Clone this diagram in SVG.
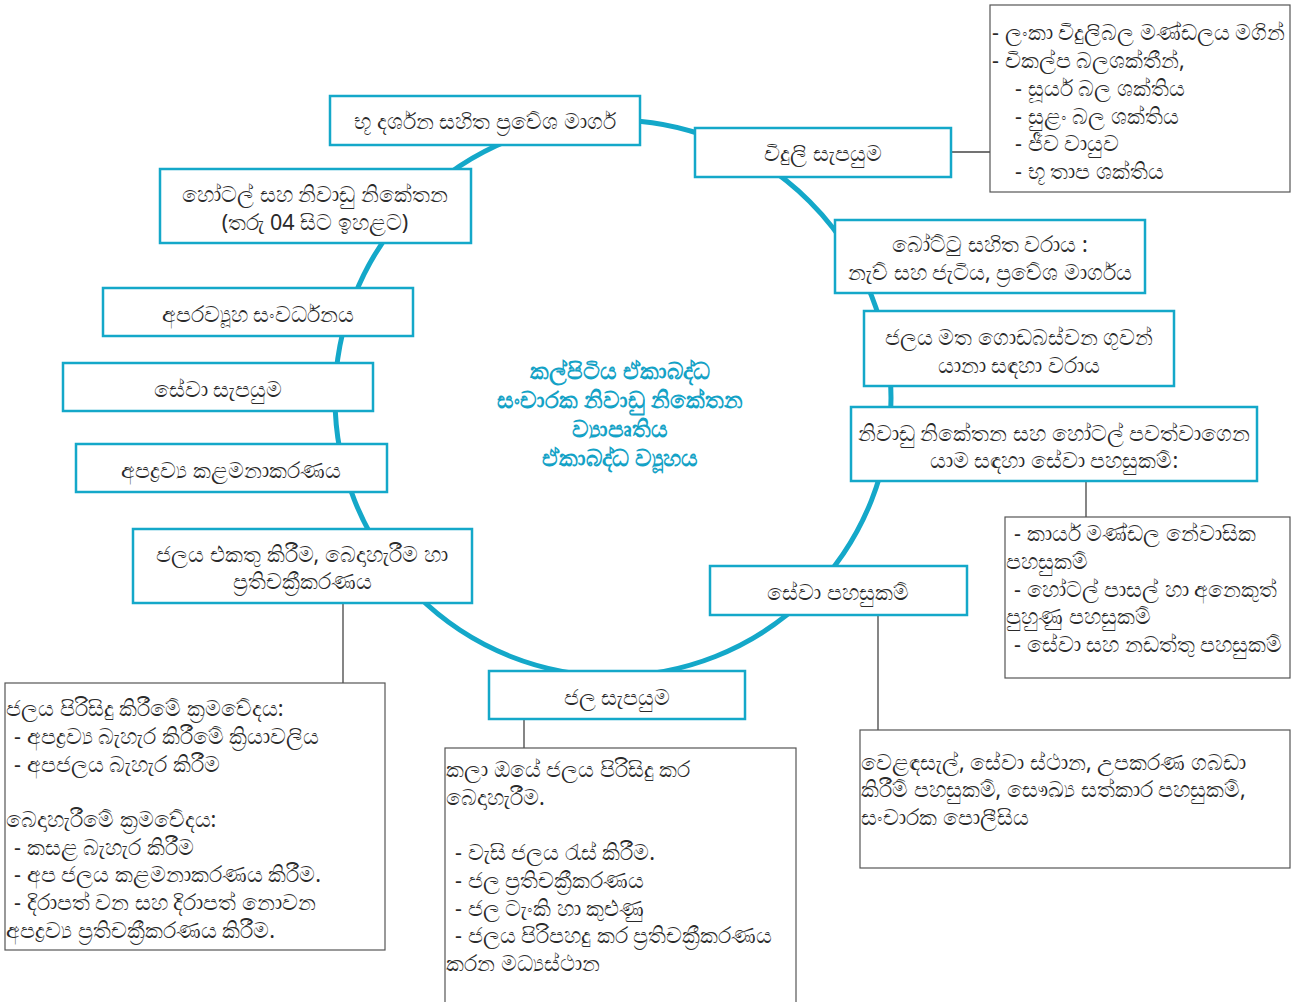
<svg xmlns="http://www.w3.org/2000/svg" width="1303" height="1002" viewBox="0 0 1303 1002">
<style>
.n{fill:#fff;stroke:#14a8c9;stroke-width:2.5}
.i{fill:#fff;stroke:#555;stroke-width:1.2}
.c{stroke:#444;stroke-width:1.3;fill:none}
text{font-family:"Noto Sans","DejaVu Sans",sans-serif;font-size:21.5px;fill:#2a2a2a}
.m{text-anchor:middle}
.t{fill:#14a2c6;font-weight:bold;font-size:23px;text-anchor:middle}
</style>
<rect width="1303" height="1002" fill="#fff"/>
<g id="ring">
<circle cx="613" cy="398" r="278" fill="none" stroke="#14a8c9" stroke-width="5"/>
</g>
<g id="connectors">
<line class="c" x1="951" y1="152" x2="990" y2="152"/>
<line class="c" x1="1086" y1="481" x2="1086" y2="517"/>
<line class="c" x1="878" y1="615" x2="878" y2="730"/>
<line class="c" x1="524" y1="719" x2="524" y2="748"/>
<line class="c" x1="343" y1="603" x2="343" y2="683"/>
</g>
<g id="center">
<text class="t" x="620" y="379">කල්පිටිය ඒකාබද්ධ</text>
<text class="t" x="620" y="408">සංචාරක නිවාඩු නිකේතන</text>
<text class="t" x="620" y="437">ව්‍යාපෘතිය</text>
<text class="t" x="620" y="466">ඒකාබද්ධ ව්‍යූහය</text>
</g>
<g id="n1"><rect class="n" x="330" y="96" width="310" height="49"/><text class="m" x="485" y="129">භූ දර්ශන සහිත ප්‍රවේශ මාර්ග</text></g>
<g id="n2"><rect class="n" x="695" y="128" width="256" height="49"/><text class="m" x="823" y="161">විදුලි සැපයුම</text></g>
<g id="n3"><rect class="n" x="160" y="169" width="311" height="74"/><text class="m" x="315" y="202">හෝටල් සහ නිවාඩු නිකේතන</text><text class="m" x="315" y="230">(තරු 04 සිට ඉහළට)</text></g>
<g id="n4"><rect class="n" x="835" y="220" width="310" height="73"/><text class="m" x="990" y="252">බෝට්ටු සහිත වරාය :</text><text class="m" x="990" y="280">නැව් සහ ජැටිය, ප්‍රවේශ මාර්ගය</text></g>
<g id="n5"><rect class="n" x="864" y="311" width="310" height="75"/><text class="m" x="1019" y="345">ජලය මත ගොඩබස්වන ගුවන්</text><text class="m" x="1019" y="373">යානා සඳහා වරාය</text></g>
<g id="n6"><rect class="n" x="851" y="407" width="406" height="74"/><text class="m" x="1054" y="441">නිවාඩු නිකේතන සහ හෝටල් පවත්වාගෙන</text><text class="m" x="1054" y="468">යාම සඳහා සේවා පහසුකම්:</text></g>
<g id="n7"><rect class="n" x="103" y="288" width="310" height="48"/><text class="m" x="258" y="322">අපරව්‍යූහ සංවර්ධනය</text></g>
<g id="n8"><rect class="n" x="63" y="363" width="310" height="48"/><text class="m" x="218" y="397">සේවා සැපයුම</text></g>
<g id="n9"><rect class="n" x="76" y="444" width="311" height="48"/><text class="m" x="231" y="478">අපද්‍රව්‍ය කළමනාකරණය</text></g>
<g id="n10"><rect class="n" x="133" y="529" width="339" height="74"/><text class="m" x="302" y="562">ජලය එකතු කිරීම, බෙදාහැරීම හා</text><text class="m" x="302" y="589">ප්‍රතිචක්‍රීකරණය</text></g>
<g id="n11"><rect class="n" x="710" y="566" width="257" height="49"/><text class="m" x="838" y="600">සේවා පහසුකම්</text></g>
<g id="n12"><rect class="n" x="489" y="671" width="256" height="48"/><text class="m" x="617" y="705">ජල සැපයුම</text></g>
<g id="infoA"><rect class="i" x="990" y="5" width="300" height="187"/>
<text x="992" y="40">- ලංකා විදුලිබල මණ්ඩලය මගින්</text>
<text x="992" y="68">- විකල්ප බලශක්තීන්,</text>
<text x="1015" y="96">- සූර්ය බල ශක්තිය</text>
<text x="1015" y="124">- සුළං බල ශක්තිය</text>
<text x="1015" y="151">- ජීව වායුව</text>
<text x="1015" y="179">- භූ තාප ශක්තිය</text></g>
<g id="infoB"><rect class="i" x="1005" y="517" width="285" height="161"/>
<text x="1014" y="541">- කාර්ය මණ්ඩල නේවාසික</text>
<text x="1006" y="569">පහසුකම්</text>
<text x="1014" y="597">- හෝටල් පාසල් හා අනෙකුත්</text>
<text x="1006" y="624">පුහුණු පහසුකම්</text>
<text x="1014" y="652">- සේවා සහ නඩත්තු පහසුකම්</text></g>
<g id="infoC"><rect class="i" x="860" y="730" width="430" height="138"/>
<text x="861" y="770">වෙළඳසැල්, සේවා ස්ථාන, උපකරණ ගබඩා</text>
<text x="861" y="797">කිරීම් පහසුකම්, සෞඛ්‍ය සත්කාර පහසුකම්,</text>
<text x="861" y="825">සංචාරක පොලීසිය</text></g>
<g id="infoD"><rect class="i" x="445" y="748" width="351" height="260"/>
<text x="446" y="777">කලා ඔයේ ජලය පිරිසිදු කර</text>
<text x="446" y="805">බෙදාහැරීම.</text>
<text x="455" y="860">- වැසි ජලය රැස් කිරීම.</text>
<text x="455" y="888">- ජල ප්‍රතිචක්‍රීකරණය</text>
<text x="455" y="916">- ජල ටැංකි හා කුළුණු</text>
<text x="455" y="943">- ජලය පිරිපහදු කර ප්‍රතිචක්‍රීකරණය</text>
<text x="446" y="971">කරන මධ්‍යස්ථාන</text></g>
<g id="infoE"><rect class="i" x="5" y="683" width="380" height="267"/>
<text x="6" y="716">ජලය පිරිසිදු කිරීමේ ක්‍රමවේදය:</text>
<text x="14" y="744">- අපද්‍රව්‍ය බැහැර කිරීමේ ක්‍රියාවලිය</text>
<text x="14" y="772">- අපජලය බැහැර කිරීම</text>
<text x="6" y="827">බෙදාහැරීමේ ක්‍රමවේදය:</text>
<text x="14" y="855">- කසළ බැහැර කිරීම</text>
<text x="14" y="882">- අප ජලය කළමනාකරණය කිරීම.</text>
<text x="14" y="910">- දිරාපත් වන සහ දිරාපත් නොවන</text>
<text x="6" y="938">අපද්‍රව්‍ය ප්‍රතිචක්‍රීකරණය කිරීම.</text></g>
</svg>
